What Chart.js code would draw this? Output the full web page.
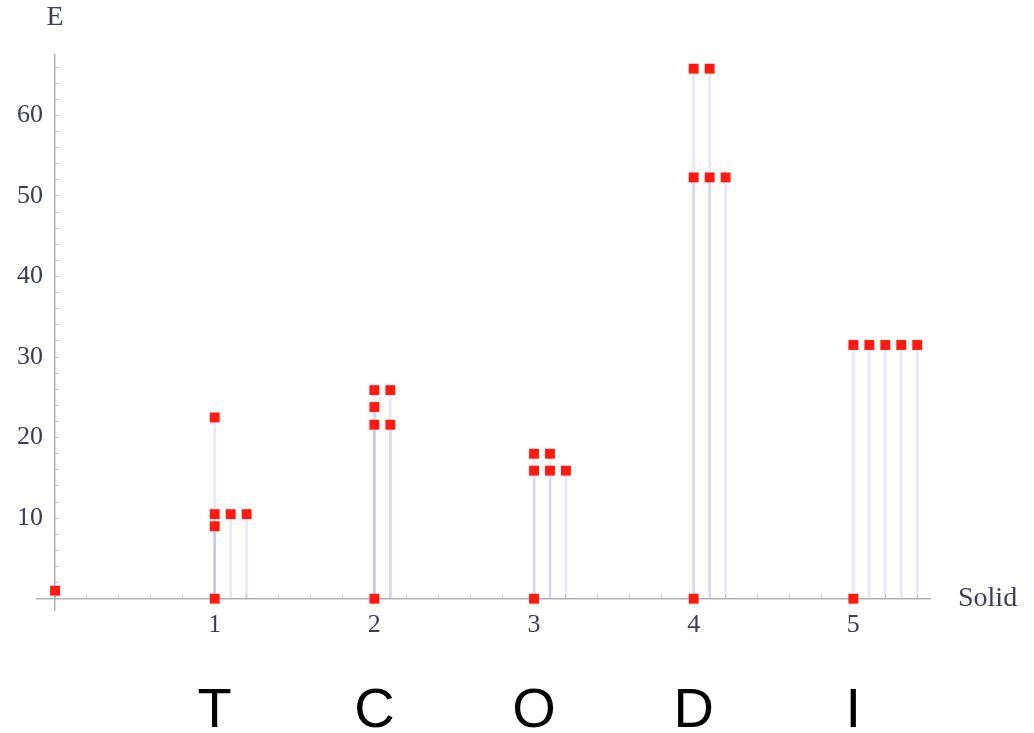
<!DOCTYPE html>
<html>
<head>
<meta charset="utf-8">
<script src="https://cdn.jsdelivr.net/npm/chart.js@4"></script>
<style>
  body { margin: 0; background: #fff; }
  #wrap { width: 1034px; height: 733px; position: relative; }
</style>
</head>
<body>
<div id="wrap"><canvas id="chart"></canvas></div>
<script>
// values
const solidPos = [0, 1, 1, 1, 1, 1.1, 1.2, 2, 2, 2, 2, 2.1, 2.1, 3, 3, 3, 3.1, 3.1, 3.2, 4, 4, 4, 4.1, 4.1, 4.2, 5, 5, 5.1, 5.2, 5.3, 5.4];
const energy = [1, 0, 9, 10.5, 22.5, 10.5, 10.5, 0, 21.6, 23.8, 25.9, 21.6, 25.9, 0, 15.9, 18, 15.9, 18, 15.9, 0, 52.3, 65.8, 52.3, 65.8, 52.3, 0, 31.5, 31.5, 31.5, 31.5, 31.5];
const solidLetters = ['T', 'C', 'O', 'D', 'I'];
const xTickLabels = [1, 2, 3, 4, 5];
const yTickLabels = [10, 20, 30, 40, 50, 60];
const xAxisTitle = 'Solid';
const yAxisTitle = 'E';

const points = solidPos.map((x, i) => ({ x: x, y: energy[i] }));

// minor tick marks (Mathematica style)
let xMinor = [];
for (let i = 0; i <= 27; i++) xMinor.push(Math.round(i * 2) / 10);
let yMinor = [];
for (let i = 0; i <= 33; i++) yMinor.push(i * 2);

const textColor = '#3c3c5c';
const serif = '"Liberation Serif", "DejaVu Serif", serif';

// axis titles, y tick labels and the letters under the axis
const labelsPlugin = {
    id: 'labelsPlugin',
    afterDraw(chart) {
        const ctx = chart.ctx;
        const x = chart.scales.x;
        const y = chart.scales.y;
        const x0 = x.getPixelForValue(0);
        ctx.save();
        ctx.fillStyle = textColor;
        ctx.font = '26px ' + serif;
        ctx.textAlign = 'right';
        ctx.textBaseline = 'middle';
        yTickLabels.forEach(v => {
            ctx.fillText(String(v), x0 - 12, y.getPixelForValue(v));
        });

        ctx.font = '28px ' + serif;
        ctx.textAlign = 'center';
        ctx.fillText(yAxisTitle, x0, 18);
        ctx.textAlign = 'left';
        ctx.fillText(xAxisTitle, 958, y.getPixelForValue(0));

        ctx.fillStyle = '#000';
        ctx.font = '56px "Liberation Sans", Arial, sans-serif';
        ctx.textAlign = 'center';
        ctx.textBaseline = 'alphabetic';
        solidLetters.forEach((letter, i) => {
            ctx.fillText(letter, x.getPixelForValue(xTickLabels[i]), 727);
        });
        ctx.restore();
    }
};

new Chart(document.getElementById('chart'), {
    type: 'scatter',
    data: {
        datasets: [
            {
                type: 'scatter',
                data: points,
                pointStyle: 'rect',
                pointRadius: 7,
                pointBackgroundColor: 'rgb(255, 25, 15)',
                pointBorderWidth: 0,
                clip: false
            },
            {
                type: 'bar',
                data: points,
                barThickness: 2,
                backgroundColor: 'rgba(150, 150, 215, 0.22)',
                borderWidth: 0
            }
        ]
    },
    options: {
        responsive: true,
        maintainAspectRatio: false,
        animation: false,
        layout: {
            autoPadding: false,
            padding: { left: 37, right: 104, top: 55, bottom: 123 }
        },
        plugins: {
            legend: { display: false },
            tooltip: { enabled: false }
        },
        scales: {
            x: {
                type: 'linear',
                position: { y: 0 },
                min: -0.113,
                max: 5.48,
                offset: false,
                afterBuildTicks: scale => { scale.ticks = xMinor.map(v => ({ value: v })); },
                border: { color: '#b4b4b4', width: 1.5 },
                grid: { drawOnChartArea: false, tickLength: -5, tickColor: '#c8c8c8', offset: false },
                ticks: {
                    autoSkip: false,
                    maxRotation: 0,
                    padding: 16,
                    color: textColor,
                    font: { family: serif, size: 26 },
                    callback: v => xTickLabels.includes(v) ? String(v) : ''
                }
            },
            y: {
                type: 'linear',
                position: { x: 0 },
                min: -1.4,
                max: 67.5,
                afterBuildTicks: scale => { scale.ticks = yMinor.map(v => ({ value: v })); },
                border: { color: '#b4b4b4', width: 1.5 },
                grid: { drawOnChartArea: false, tickLength: -5, tickColor: '#c8c8c8' },
                ticks: {
                    autoSkip: false,
                    color: textColor,
                    font: { family: serif, size: 26 },
                    callback: () => ''
                }
            }
        }
    },
    plugins: [labelsPlugin]
});
</script>
</body>
</html>
